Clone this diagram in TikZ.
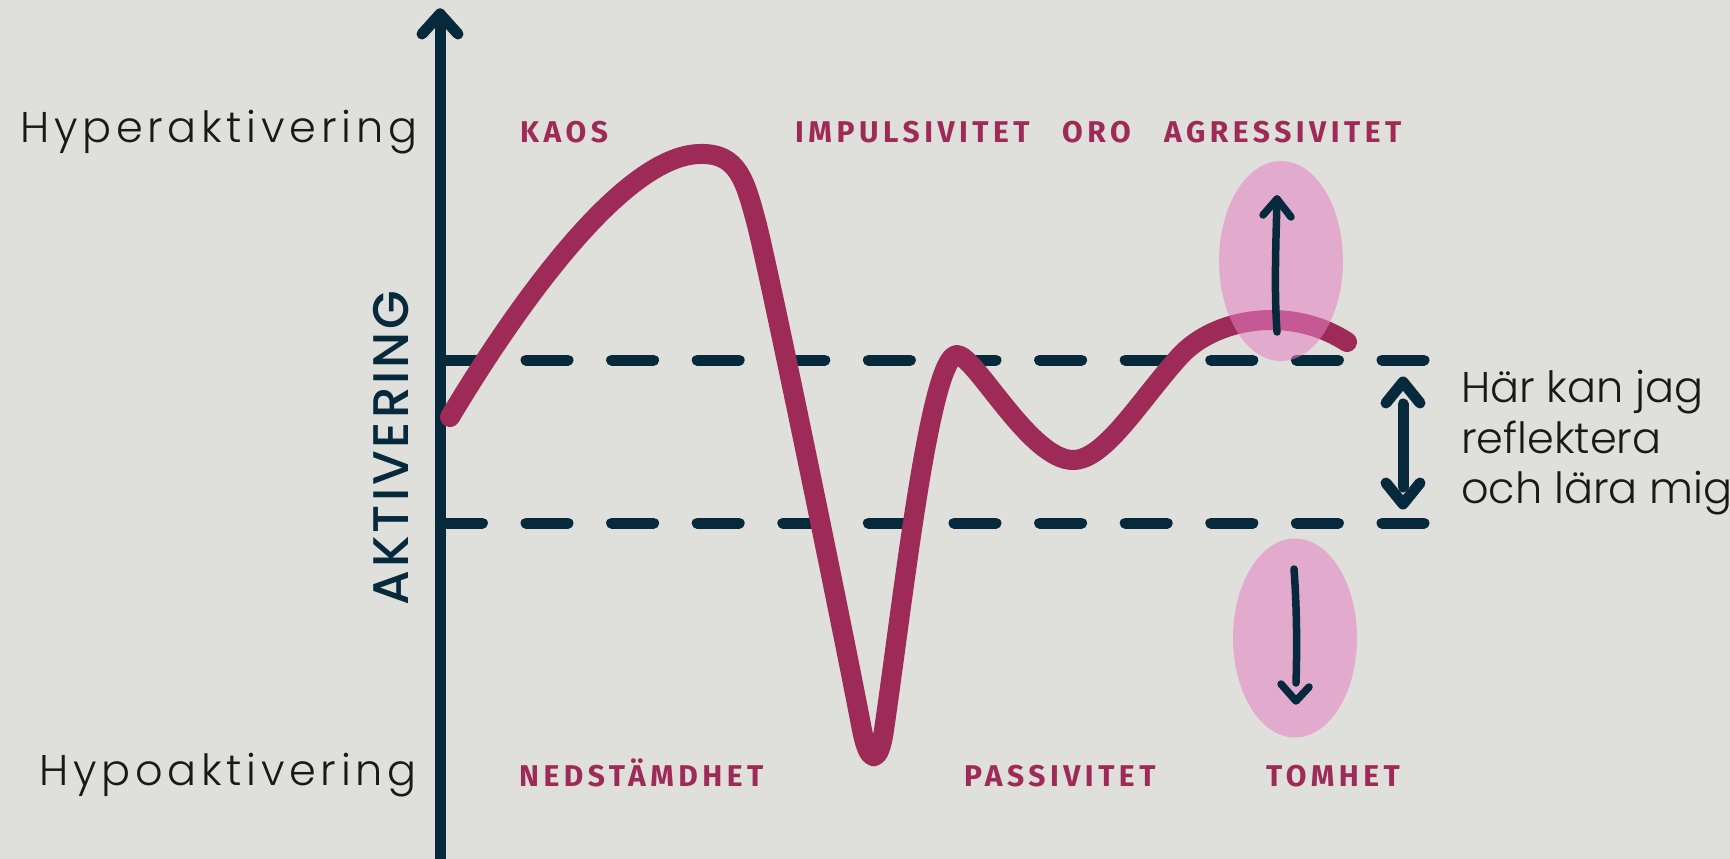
\documentclass[tikz,border=0pt]{standalone}
\usepackage{fontspec}
\usetikzlibrary{shapes.geometric}
\newfontfamily\thinfont{Poppins}[UprightFont=* Light]
\newfontfamily\thinfontsp{Poppins}[UprightFont=* Light,LetterSpace=11]
\newfontfamily\medfont{Poppins}[UprightFont=* Medium,LetterSpace=6]
\newfontfamily\labfont{Fira Sans}[LetterSpace=15]
\definecolor{bg}{RGB}{223,223,219}
\definecolor{navy}{RGB}{6,42,60}
\definecolor{maroon}{RGB}{158,42,88}
\definecolor{pinkf}{RGB}{229,129,196}
\begin{document}
\begin{tikzpicture}[x=1pt,y=-1pt,
  axisline/.style={draw=navy,line width=11pt,line cap=round,line join=round},
  dashline/.style={draw=navy,line width=11pt,line cap=round,dash pattern=on 42pt off 43.6pt},
  smallarrow/.style={draw=navy,line width=7.5pt,line cap=round,line join=round},
  curveline/.style={draw=maroon,line width=20pt,line cap=round,line join=round},
  blob/.style={fill=pinkf,fill opacity=0.55},
  lab/.style={anchor=base west,inner sep=0pt,text=maroon,font=\labfont\bfseries\fontsize{30}{30}\selectfont},
  sidetext/.style={anchor=base west,inner sep=0pt,text=black!90,font=\thinfontsp\fontsize{43}{50}\selectfont},
  note/.style={anchor=base west,inner sep=0pt,text=black!90,font=\thinfont\fontsize{43}{50}\selectfont}
]
\fill[bg] (0,0) rectangle (1730,859);
\useasboundingbox (0,0) rectangle (1730,859);

% dashed band
\draw[dashline] (440.4,360) -- (1424,360);
\draw[dashline] (440.4,523) -- (1424,523);

% axis
\coordinate (axbot) at (440,864);
\coordinate (axtop) at (440,14);
\draw[axisline] (axbot) -- (axtop);
\draw[axisline] (422,34) -- (axtop) -- (458,34);

% curve
\coordinate (c0) at (450,417);
\coordinate (c1) at (700,154);
\coordinate (c2) at (757,225);
\coordinate (c3) at (862,730);
\coordinate (c4) at (884,730);
\coordinate (c5) at (957,355);
\coordinate (c6) at (1073,460);
\coordinate (c7) at (1180,356);
\coordinate (c8) at (1347,342);
\draw[curveline] (c0) .. controls (520,300) and (625,155) .. (c1)
  .. controls (738,153) and (745,180) .. (c2)
  .. controls (772,285) and (845,640) .. (c3)
  .. controls (869,765) and (879,765) .. (c4)
  .. controls (903,600) and (930,355) .. (c5)
  .. controls (975,355) and (1030,460) .. (c6)
  .. controls (1105,460) and (1140,400) .. (c7)
  .. controls (1215,318) and (1290,305) .. (c8);

% pink ellipses
\node[blob,ellipse,minimum width=124pt,minimum height=200pt,inner sep=0pt] (eup) at (1281,261) {};
\node[blob,ellipse,minimum width=124pt,minimum height=199pt,inner sep=0pt] (edown) at (1295,638) {};

% small arrows
\coordinate (ua1) at (1277,332);
\coordinate (ua2) at (1277,199);
\draw[smallarrow] (ua1) .. controls (1274,290) and (1276,240) .. (ua2);
\draw[smallarrow] (1263,215) -- (ua2) -- (1291,217);
\coordinate (da1) at (1294,569);
\coordinate (da2) at (1296,701);
\draw[smallarrow] (da1) .. controls (1297,610) and (1297,650) .. (1296,683);
\draw[smallarrow] (1281,684) -- (da2) -- (1309,687);

% double arrow
\coordinate (dt) at (1403,382);
\coordinate (db) at (1403,504);
\draw[axisline] (1403,404) -- (1403,487);
\draw[axisline] (1386,403) -- (dt) -- (1420,403);
\draw[axisline] (1386,483) -- (db) -- (1420,483);

% texts
\node[sidetext] (hyper) at (20,142) {Hyperaktivering};
\node[sidetext] (hypo) at (39,785) {Hypoaktivering};
\node[anchor=center,inner sep=0pt,rotate=90,text=navy,font=\medfont\fontsize{50}{50}\selectfont] (akt) at (391,448) {AKTIVERING};
\node[note] (refl1) at (1461,402) {Här kan jag};
\node[note] (refl2) at (1461,453) {reflektera};
\node[note] (refl3) at (1461,503) {och lära mig};

\node[lab] (kaos) at (520,142) {KAOS};
\node[lab] (imp) at (795,142) {IMPULSIVITET};
\node[lab] (oro) at (1062,142) {ORO};
\node[lab] (agr) at (1164,142) {AGRESSIVITET};
\node[lab] (ned) at (519,786) {NEDSTÄMDHET};
\node[lab] (pas) at (964,786) {PASSIVITET};
\node[lab] (tom) at (1266,786) {TOMHET};
\end{tikzpicture}
\end{document}
